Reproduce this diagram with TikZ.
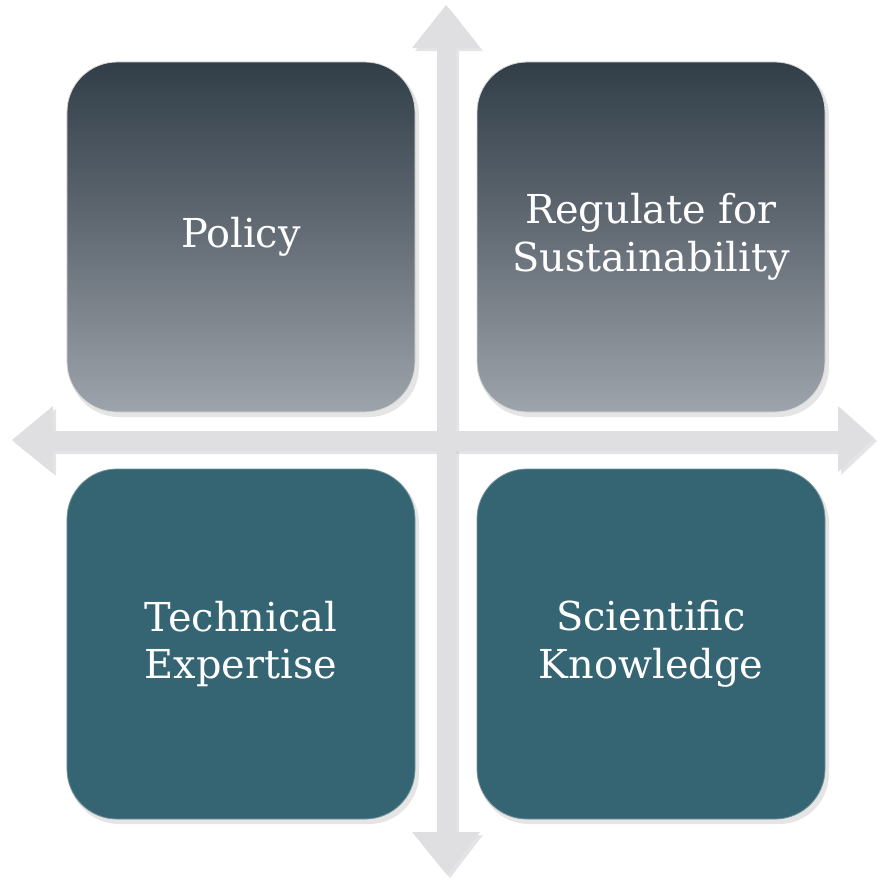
\documentclass[tikz,border=0pt]{standalone}
\usepackage{fontspec}
\setmainfont{DejaVu Serif}
\definecolor{arrowgray}{HTML}{DFDFE1}
\definecolor{arrowshade}{HTML}{C8C9CC}
\definecolor{topdark}{HTML}{313E48}
\definecolor{topmid}{HTML}{656D76}
\definecolor{toplight}{HTML}{9EA4AB}
\definecolor{teal}{HTML}{356473}
\tikzset{
  quad/.style={rounded corners=50bp, minimum width=348bp, minimum height=350bp,
    inner sep=0pt, outer sep=0pt, draw=white!70!gray, line width=0.8bp,
    text=white, align=center, font=\fontsize{40}{48}\selectfont},
  greyquad/.style={quad, top color=topdark, bottom color=toplight, middle color=topmid},
  tealquad/.style={quad, fill=teal, draw=teal!70!white},
  quadshadow/.style={fill=black, opacity=0.10, rounded corners=50bp},
  arrowbody/.style={fill=arrowgray},
  arrowshadow/.style={fill=arrowshade, opacity=0.5},
}
\begin{document}
\begin{tikzpicture}[x=1bp,y=-1bp]
\useasboundingbox (0,0) rectangle (877,879);
% arrow shadows
\begin{scope}[shift={(3,3)}]
\fill[arrowshadow] (446,5) -- (480,48) -- (456,48) -- (456,832) -- (480,832) -- (447,875) -- (412,832) -- (437,832) -- (437,48) -- (412,48) -- cycle;
\fill[arrowshadow] (12,440) -- (53,406) -- (53,431) -- (838,431) -- (838,406) -- (874,438) -- (838,472) -- (838,451) -- (53,451) -- (53,473) -- cycle;
\end{scope}
% arrows
\fill[arrowbody] (446,5) -- (480,48) -- (456,48) -- (456,832) -- (480,832) -- (447,875) -- (412,832) -- (437,832) -- (437,48) -- (412,48) -- cycle;
\fill[arrowbody] (12,440) -- (53,406) -- (53,431) -- (838,431) -- (838,406) -- (874,438) -- (838,472) -- (838,451) -- (53,451) -- (53,473) -- cycle;
% box shadows
\foreach \x/\y in {241/237, 651/237, 241/644, 651/644}{
  \fill[quadshadow] (\x-172,\y-171) rectangle (\x+178,\y+180);
}
% boxes
\node[greyquad] (policy) at (241,237) {Policy};
\node[greyquad] (regulate) at (651,237) {Regulate for\\Sustainability};
\node[tealquad] (technical) at (241,644) {Technical\\Expertise};
\node[tealquad] (scientific) at (651,644) {Scientific\\Knowledge};
\end{tikzpicture}
\end{document}
